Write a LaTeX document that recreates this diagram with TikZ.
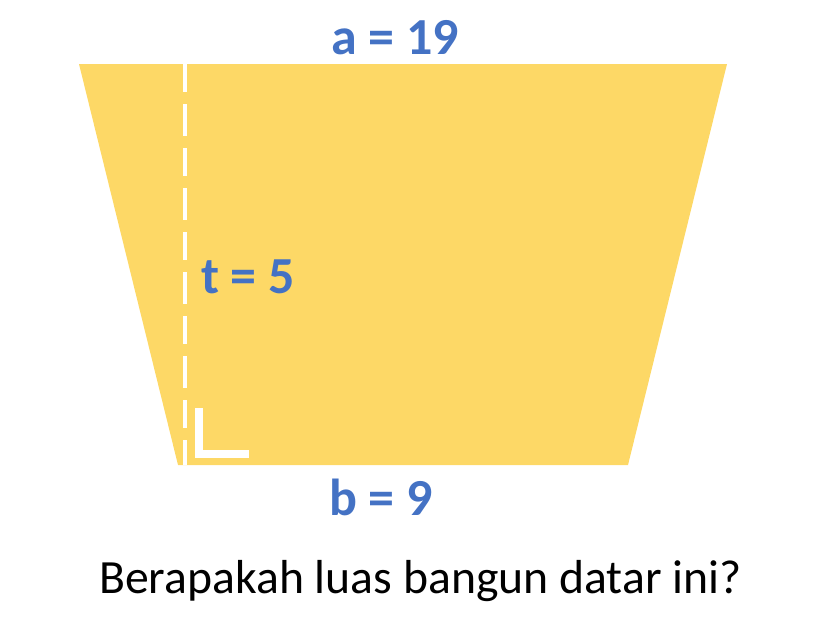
\documentclass[tikz,border=0pt]{standalone}
\usepackage{fontspec}
\setmainfont{Carlito}
\definecolor{gold}{HTML}{FDD866}
\definecolor{lblue}{HTML}{4472C4}
\begin{document}
\begin{tikzpicture}[x=1pt,y=-1pt,
  lbl/.style={font=\bfseries\fontsize{52}{60}\selectfont, text=lblue, inner sep=0pt},
  qtext/.style={font=\fontsize{47.7}{56}\selectfont, text=black, inner sep=0pt}]
\useasboundingbox (0,0) rectangle (813,635);
\coordinate (tl) at (79,64);
\coordinate (tr) at (727,64);
\coordinate (br) at (628,465);
\coordinate (bl) at (178,465);
\fill[gold] (tl) -- (tr) -- (br) -- (bl) -- cycle;
\coordinate (ht) at (184.5,64);
\coordinate (hb) at (184.5,465);
\draw[white, line width=4pt, dash pattern=on 28pt off 12pt on 32pt off 12pt] (ht) -- (hb);
\coordinate (ra1) at (198.5,408);
\coordinate (ra2) at (198.5,453.5);
\coordinate (ra3) at (249,453.5);
\draw[white, line width=8pt, line join=miter] (ra1) -- (ra2) -- (ra3);
\node[lbl] (a) at (395,38) {a = 19};
\node[lbl] (t) at (248,277) {t = 5};
\node[lbl] (b) at (381,497) {b = 9};
\node[qtext] (q) at (420.5,581) {Berapakah luas bangun datar ini?};
\end{tikzpicture}
\end{document}
